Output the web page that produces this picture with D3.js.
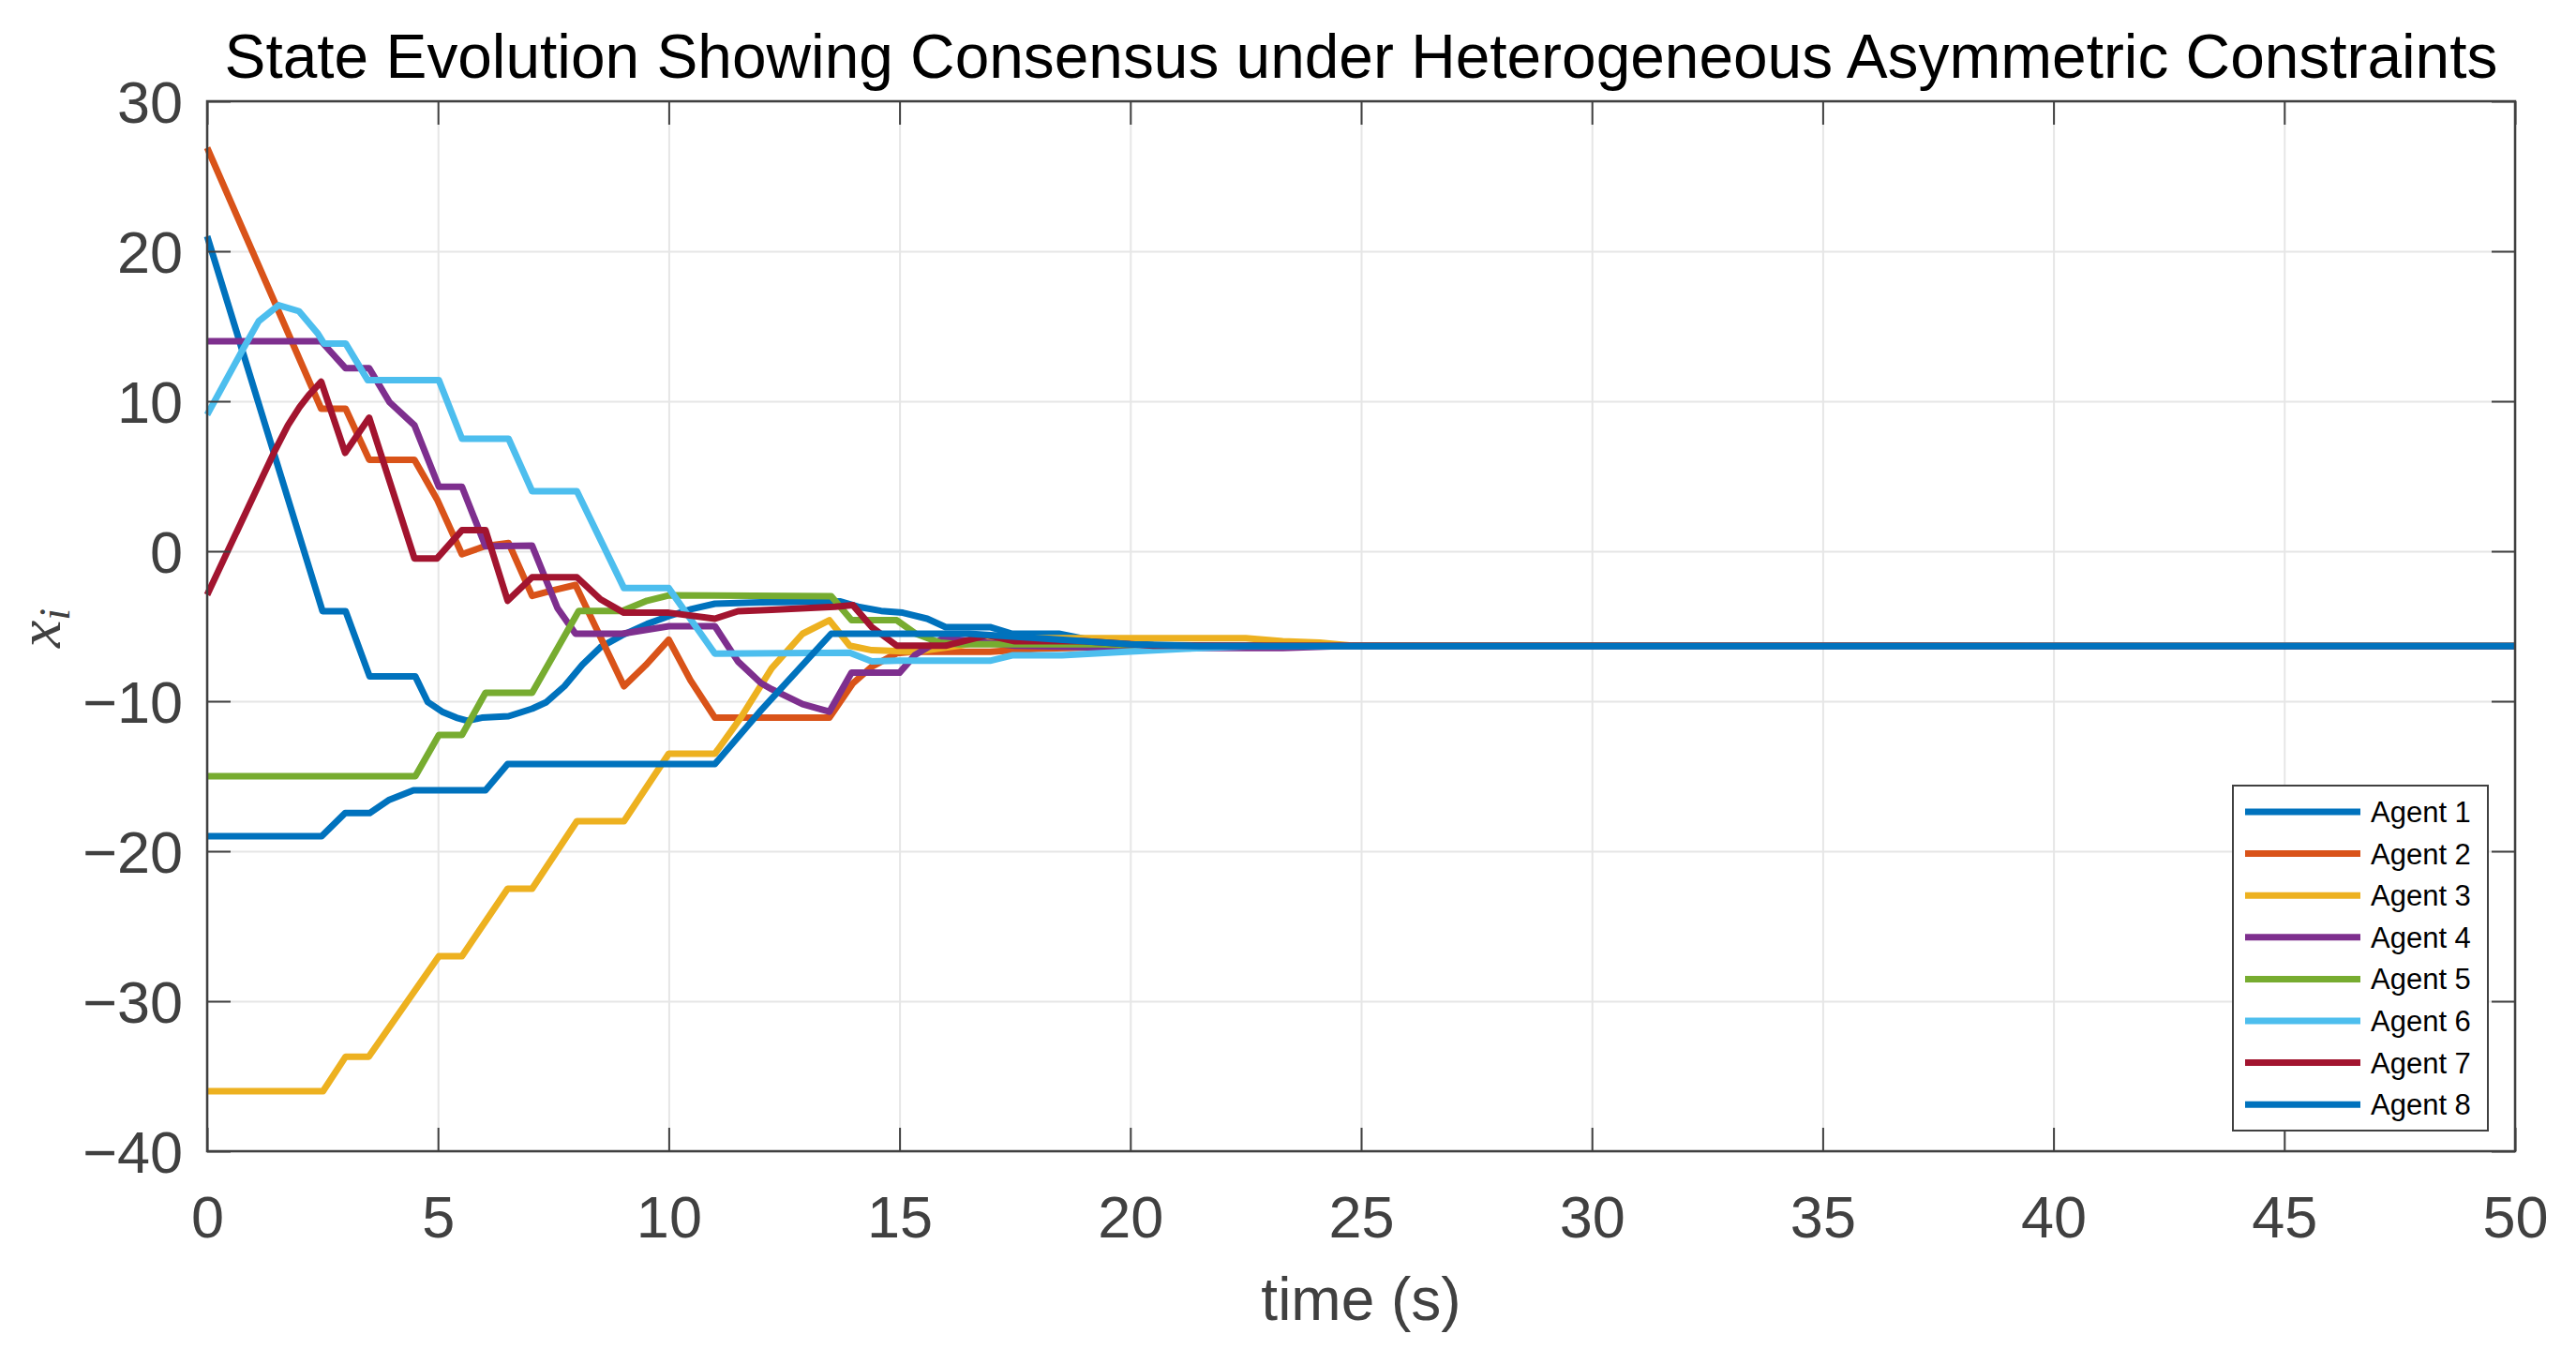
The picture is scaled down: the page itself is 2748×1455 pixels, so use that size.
<!DOCTYPE html>
<html>
<head>
<meta charset="utf-8">
<script src="https://cdn.jsdelivr.net/npm/d3@7"></script>
<style>
  body { margin: 0; background: #fff; }
  svg { display: block; font-family: "Liberation Sans", Arial, Helvetica, sans-serif; }
</style>
</head>
<body>
<svg id="chart" width="2748" height="1455"></svg>
<script>
// state trajectories as [time, value]
const agent1 = [[0,21.0],[2.5,-4.0],[3.0,-4.0],[3.52,-8.35],[4.51,-8.35],[4.78,-10.06],[5.09,-10.7],[5.4,-11.1],[5.64,-11.3],[5.95,-11.1],[6.53,-11.0],[7.04,-10.5],[7.35,-10.06],[7.74,-9.0],[8.13,-7.56],[8.52,-6.4],[8.99,-5.6],[9.53,-4.85],[10.0,-4.33],[10.5,-3.85],[11.0,-3.5],[12.0,-3.4],[13.72,-3.35],[14.1,-3.7],[14.6,-3.98],[15.07,-4.1],[15.6,-4.5],[16.0,-5.06],[16.96,-5.06],[17.44,-5.5],[18.45,-5.5],[19.26,-6.0],[20.5,-6.25],[22,-6.3],[50,-6.33]];
const agent2 = [[0,26.9],[2.47,9.5],[3.0,9.5],[3.51,6.1],[4.49,6.1],[4.98,3.46],[5.52,-0.2],[6.03,0.35],[6.53,0.55],[7.04,-2.98],[7.5,-2.6],[7.98,-2.25],[9.03,-9.0],[9.5,-7.6],[10.0,-5.9],[10.47,-8.6],[11.0,-11.1],[13.48,-11.1],[13.99,-8.8],[14.4,-7.7],[14.94,-6.8],[15.3,-6.7],[16.96,-6.7],[18,-6.5],[20,-6.35],[50,-6.33]];
const agent3 = [[0,-36],[2.51,-36],[3.0,-33.7],[3.5,-33.7],[5.02,-27.0],[5.52,-27.0],[6.51,-22.5],[7.04,-22.5],[8.01,-18.0],[9.03,-18.0],[10.0,-13.5],[11.0,-13.5],[11.56,-11.1],[12.23,-7.8],[12.9,-5.5],[13.48,-4.6],[13.92,-6.3],[14.4,-6.6],[15.34,-6.7],[16.29,-6.3],[16.96,-5.9],[18,-5.8],[22.5,-5.8],[23.3,-6.0],[24.1,-6.1],[24.8,-6.3],[50,-6.33]];
const agent4 = [[0,14.0],[2.47,14.0],[3.0,12.2],[3.51,12.2],[3.95,9.94],[4.49,8.4],[5.02,4.3],[5.52,4.3],[6.03,0.33],[7.04,0.37],[7.59,-3.8],[7.98,-5.5],[8.99,-5.5],[10.0,-5.0],[11.0,-5.0],[11.5,-7.35],[12.0,-8.8],[12.23,-9.2],[12.9,-10.2],[13.48,-10.7],[13.96,-8.1],[15.0,-8.1],[15.34,-6.9],[15.95,-5.8],[16.29,-5.9],[17.5,-6.3],[20,-6.45],[23.3,-6.45],[24.5,-6.33],[50,-6.33]];
const agent5 = [[0,-15],[4.51,-15],[5.02,-12.25],[5.52,-12.25],[6.03,-9.44],[7.04,-9.44],[8.05,-3.98],[8.99,-3.98],[9.53,-3.3],[10.0,-2.94],[13.52,-3.0],[13.96,-4.6],[14.94,-4.6],[15.34,-5.48],[15.88,-6.1],[16.29,-6.2],[19.3,-6.2],[21,-6.33],[50,-6.33]];
const agent6 = [[0,9.1],[0.78,13.5],[1.12,15.35],[1.55,16.4],[1.99,16.0],[2.4,14.5],[2.53,13.85],[3.0,13.85],[3.48,11.4],[5.02,11.4],[5.52,7.5],[6.53,7.5],[7.04,4.0],[8.01,4.0],[9.03,-2.46],[10.0,-2.46],[11.0,-6.83],[13.92,-6.77],[14.4,-7.35],[14.94,-7.3],[16.96,-7.3],[17.44,-6.94],[18.52,-6.94],[19.9,-6.7],[21.2,-6.5],[22.5,-6.35],[50,-6.33]];
const agent7 = [[0,-2.9],[1.45,6.6],[1.75,8.4],[2.0,9.6],[2.2,10.4],[2.47,11.3],[2.99,6.56],[3.51,8.9],[4.49,-0.48],[4.98,-0.48],[5.52,1.4],[6.03,1.4],[6.51,-3.3],[7.04,-1.73],[8.01,-1.73],[8.52,-3.2],[9.03,-4.1],[10.0,-4.1],[11.0,-4.5],[11.5,-4.0],[12.23,-3.9],[13.6,-3.7],[13.99,-3.6],[14.4,-5.06],[14.94,-6.3],[16.0,-6.3],[16.9,-5.6],[17.5,-6.0],[19,-6.0],[20.5,-6.3],[50,-6.33]];
const agent8 = [[0,-19],[2.48,-19],[2.99,-17.46],[3.52,-17.46],[3.93,-16.6],[4.47,-15.94],[6.03,-15.94],[6.51,-14.19],[11.0,-14.19],[12.0,-10.6],[13.52,-5.5],[16.5,-5.5],[18,-5.8],[20,-6.2],[21.5,-6.33],[50,-6.33]];

const agents = [agent1, agent2, agent3, agent4, agent5, agent6, agent7, agent8];
const agentNames = ["Agent 1","Agent 2","Agent 3","Agent 4","Agent 5","Agent 6","Agent 7","Agent 8"];
const agentColors = ["#0072BD","#D95319","#EDB120","#7E2F8E","#77AC30","#4DBEEE","#A2142F","#0072BD"];
const xTicks = [0,5,10,15,20,25,30,35,40,45,50];
const yTicks = [-40,-30,-20,-10,0,10,20,30];

const svg = d3.select("#chart");
const m = {left: 221, right: 2683, top: 108, bottom: 1228};
const w = m.right - m.left, h = m.bottom - m.top;
const axisCol = "#404040";

const x = d3.scaleLinear().domain([0, 50]).range([0, w]);
const y = d3.scaleLinear().domain([-40, 30]).range([h, 0]);

const g = svg.append("g").attr("transform", `translate(${m.left},${m.top})`);

// grid
g.append("g")
    .attr("transform", `translate(0,${h})`)
    .call(d3.axisBottom(x).tickValues(xTicks).tickSize(-h).tickFormat(""))
    .call(s => s.select(".domain").remove())
    .call(s => s.selectAll("line").attr("stroke", "#e6e6e6").attr("stroke-width", 2));
g.append("g")
    .call(d3.axisLeft(y).tickValues(yTicks).tickSize(-w).tickFormat(""))
    .call(s => s.select(".domain").remove())
    .call(s => s.selectAll("line").attr("stroke", "#e6e6e6").attr("stroke-width", 2));

// series
const line = d3.line().x(d => x(d[0])).y(d => y(d[1]));
g.append("g").selectAll("path")
    .data(agents)
    .join("path")
    .attr("d", line)
    .attr("fill", "none")
    .attr("stroke", (d, i) => agentColors[i])
    .attr("stroke-width", 7)
    .attr("stroke-linejoin", "round");

// axes with inward ticks
function styleAxis(s) {
    s.select(".domain").remove();
    s.selectAll("line").attr("stroke", axisCol).attr("stroke-width", 2);
    s.selectAll("text").attr("fill", axisCol).style("font-size", "63px")
        .style("font-family", '"Liberation Sans", Arial, Helvetica, sans-serif');
}
g.append("g")
    .attr("transform", `translate(0,${h})`)
    .call(d3.axisBottom(x).tickValues(xTicks).tickSizeInner(-25).tickSizeOuter(0).tickPadding(47))
    .call(styleAxis);
g.append("g")
    .call(d3.axisTop(x).tickValues(xTicks).tickSizeInner(-25).tickSizeOuter(0).tickFormat(""))
    .call(styleAxis);
g.append("g")
    .call(d3.axisLeft(y).tickValues(yTicks).tickSizeInner(-25).tickSizeOuter(0).tickPadding(26))
    .call(styleAxis)
    .call(s => s.selectAll("text").attr("dy", "0.355em"));
g.append("g")
    .attr("transform", `translate(${w},0)`)
    .call(d3.axisRight(y).tickValues(yTicks).tickSizeInner(-25).tickSizeOuter(0).tickFormat(""))
    .call(styleAxis);

g.append("rect")
    .attr("width", w).attr("height", h)
    .attr("fill", "none").attr("stroke", axisCol).attr("stroke-width", 2.5);

// title and labels
svg.append("text")
    .attr("x", m.left + w / 2).attr("y", 83)
    .attr("text-anchor", "middle")
    .style("font-size", "65.8px").attr("fill", "#000")
    .text("State Evolution Showing Consensus under Heterogeneous Asymmetric Constraints");

svg.append("text")
    .attr("x", m.left + w / 2).attr("y", 1408)
    .attr("text-anchor", "middle")
    .style("font-size", "64px").attr("fill", axisCol)
    .text("time (s)");

const ylab = svg.append("text")
    .attr("transform", `translate(64,670) rotate(-90)`)
    .attr("text-anchor", "middle")
    .style("font-family", '"Liberation Serif", "DejaVu Serif", serif')
    .style("font-style", "italic")
    .attr("fill", axisCol);
ylab.append("tspan").style("font-size", "66px").text("x");
ylab.append("tspan").style("font-size", "46px").attr("dy", 10).text("i");

// legend
const leg = svg.append("g").attr("transform", "translate(2382,838)");
leg.append("rect")
    .attr("width", 272).attr("height", 368)
    .attr("fill", "#fff").attr("stroke", axisCol).attr("stroke-width", 2);
const rows = leg.selectAll("g.row")
    .data(agentNames)
    .join("g")
    .attr("class", "row")
    .attr("transform", (d, i) => `translate(0,${28 + i * 44.6})`);
rows.append("line")
    .attr("x1", 13).attr("x2", 136)
    .attr("stroke", (d, i) => agentColors[i])
    .attr("stroke-width", 7);
rows.append("text")
    .attr("x", 147).attr("y", 11)
    .style("font-size", "31px").attr("fill", "#000")
    .text(d => d);
</script>
</body>
</html>
